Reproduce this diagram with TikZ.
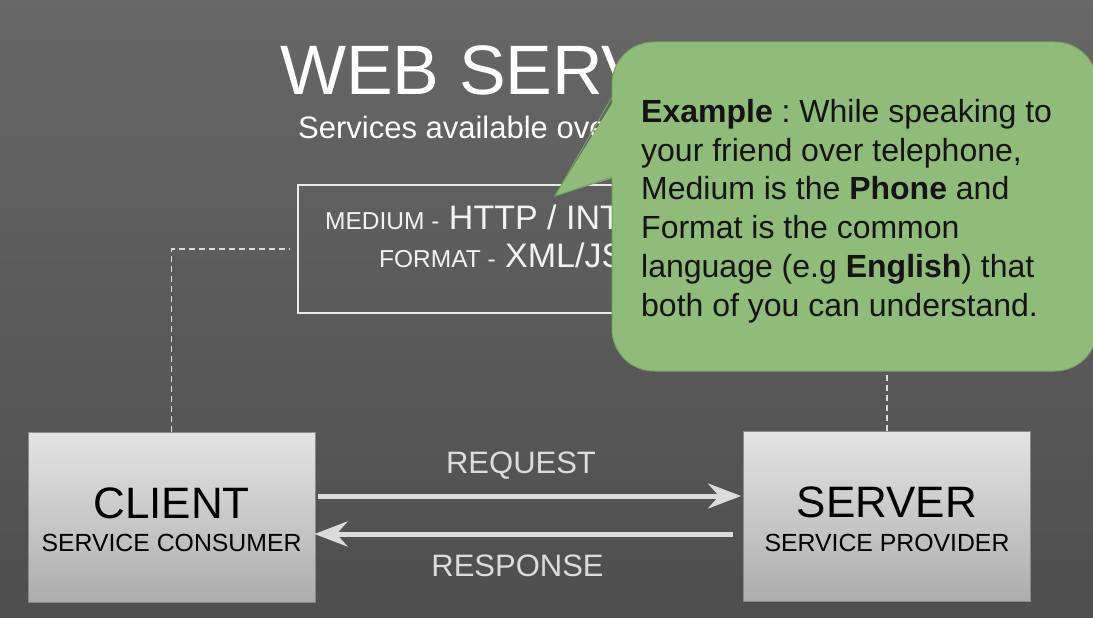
\documentclass[tikz,border=0pt]{standalone}
\usepackage{fontspec}
\setmainfont{Liberation Sans}
\usetikzlibrary{arrows.meta,calc}
\frenchspacing

\definecolor{bgtop}{HTML}{676767}
\definecolor{bgbot}{HTML}{4E4E4E}
\definecolor{boxtop}{HTML}{E4E4E4}
\definecolor{boxbot}{HTML}{ADADAD}
\definecolor{boxedge}{HTML}{8A8A8A}
\definecolor{flowcol}{HTML}{DCDCDC}
\definecolor{bubblefill}{HTML}{8FBC78}
\definecolor{bubbleedge}{HTML}{77A463}
\definecolor{inktext}{HTML}{141414}

\tikzset{
  titletext/.style={text=white, inner sep=0, font=\fontsize{70}{84}\selectfont},
  subtext/.style={text=white, inner sep=0, font=\fontsize{31}{37}\selectfont},
  mediumbox/.style={draw=white!92!black, line width=1.4pt, minimum width=496pt, minimum height=128pt, inner sep=0},
  boxline/.style={text=white!95!black, inner sep=0},
  hostbox/.style={draw=boxedge, line width=1pt, top color=boxtop, bottom color=boxbot, minimum width=287pt, minimum height=170pt, inner sep=0},
  hostname/.style={text=black, inner sep=0, font=\fontsize{44}{52}\selectfont},
  hostrole/.style={text=black, inner sep=0, font=\fontsize{24.8}{30}\selectfont},
  flow/.style={draw=flowcol, line width=5pt, -{Stealth[length=33pt, width=25pt, inset=11pt]}},
  flowlabel/.style={text=flowcol, inner sep=0, font=\fontsize{31}{37}\selectfont},
  link/.style={draw=flowcol, line width=1.3pt, dash pattern=on 6pt off 4pt},
  bubble/.style={fill=bubblefill, draw=bubbleedge, line width=1pt},
  bubbletext/.style={text=inktext, inner sep=0, align=left, font=\fontsize{32}{38.8}\selectfont}
}

\begin{document}
\begin{tikzpicture}[x=1pt, y=-1pt]
\useasboundingbox (0,0) rectangle (1093,618);
% backdrop
\shade[top color=bgtop, bottom color=bgbot] (0,0) rectangle (1093,618);

% heading
\node[titletext, anchor=base west] (title) at (280,95) {WEB SERVICES};
\node[subtext, anchor=base west] (subtitle) at (298,138) {Services available over the web};

% medium / format box
\node[mediumbox] (medium) at (546,249) {};
\node[boxline, anchor=base west] (mediumline) at (325,229)
  {{\fontsize{24.5}{29}\selectfont MEDIUM -}{\fontsize{34}{40}\selectfont\ HTTP / INTERNET}};
\node[boxline, anchor=base west] (formatline) at (379,267)
  {{\fontsize{24.5}{29}\selectfont FORMAT -}{\fontsize{34}{40}\selectfont\ XML/JSON}};

% client and server
\node[hostbox] (client) at (171.5,517) {};
\node[hostname, anchor=base] (clientname) at ([yshift=-1pt]client.center) {CLIENT};
\node[hostrole, anchor=base] (clientrole) at ([yshift=-34pt]client.center) {SERVICE CONSUMER};

\node[hostbox] (server) at (887,516) {};
\node[hostname, anchor=base] (servername) at ([yshift=-1pt]server.center) {SERVER};
\node[hostrole, anchor=base] (serverrole) at ([yshift=-35pt]server.center) {SERVICE PROVIDER};

% dashed ties to the medium box
\draw[link] (client.north) |- ([xshift=-8pt]medium.west);
\draw[link] (server.north) |- ([xshift=8pt]medium.east);

% request / response
\draw[flow] ([xshift=2pt,yshift=21pt]client.east) -- ([xshift=-2pt,yshift=20pt]server.west);
\draw[flow] ([xshift=-10pt,yshift=-18pt]server.west) -- ([xshift=-1pt,yshift=-17pt]client.east);
\node[flowlabel, anchor=base] (reqlabel) at (521,473) {REQUEST};
\node[flowlabel, anchor=base] (reslabel) at (517.5,576) {RESPONSE};

% speech bubble
\draw[bubble, rounded corners=42pt] (612,42) rectangle (1097,371);
\fill[bubblefill] (555,196) -- (616,177) -- (616,97) -- cycle;
\draw[bubbleedge, line width=1pt, line join=miter] (612,177) -- (555,196) -- (612,97);
\node[bubbletext, anchor=north west] (example) at (641,99)
  {\textbf{Example} : While speaking to\\
   your friend over telephone,\\
   Medium is the \textbf{Phone} and\\
   Format is the common\\
   language (e.g \textbf{English}) that\\
   both of you can understand.};
\end{tikzpicture}
\end{document}
